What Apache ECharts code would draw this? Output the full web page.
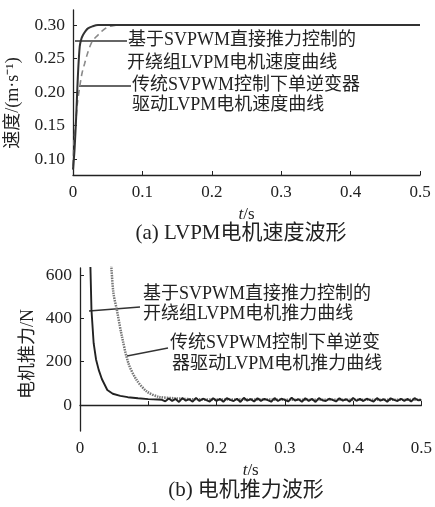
<!DOCTYPE html>
<html><head><meta charset="utf-8">
<script src="https://cdn.jsdelivr.net/npm/echarts@6/dist/echarts.min.js"></script>
<style>html,body{margin:0;padding:0;background:#fff}#c{width:435px;height:507px}</style>
</head><body><div id="c"></div>
<script>
// ---- Data ----
const xTicks = [0, 0.1, 0.2, 0.3, 0.4, 0.5];
const speedTicks = [0.10, 0.15, 0.20, 0.25, 0.30];
const thrustTicks = [0, 200, 400, 600];

// (a) speed, open-winding LVPM with SVPWM direct thrust control (solid)
const speedDtcT = [0, 0.002, 0.004, 0.005, 0.007, 0.0097, 0.012, 0.0144, 0.018, 0.0216, 0.028, 0.036, 0.05, 0.5];
const speedDtcV = [0.084, 0.11, 0.15, 0.173, 0.223, 0.268, 0.279, 0.285, 0.291, 0.295, 0.298, 0.300, 0.300, 0.300];
// (a) speed, conventional SVPWM single inverter (dashed)
const speedConvT = [0, 0.0014, 0.004, 0.0063, 0.0097, 0.013, 0.0169, 0.021, 0.0264, 0.031, 0.036, 0.043, 0.050, 0.058, 0.065, 0.08, 0.5];
const speedConvV = [0.09, 0.124, 0.155, 0.183, 0.208, 0.228, 0.243, 0.258, 0.273, 0.280, 0.285, 0.292, 0.297, 0.299, 0.300, 0.300, 0.300];

// (b) thrust, direct thrust control (solid) - transient
const thrustDtcT = [0.013, 0.0153, 0.0168, 0.020, 0.0235, 0.0274, 0.032, 0.040, 0.048, 0.059, 0.07, 0.085, 0.1, 0.114];
const thrustDtcV = [900, 632, 438, 285, 210, 162, 120, 69, 52, 42, 36, 31, 27, 25];
// (b) thrust steady ripple, from t = 0.12 s every 0.005 s
const rippleStart = 0.12, rippleStep = 0.005;
const thrustRipple = [24,17,30,19,28,14,32,20,27,15,33,18,29,22,16,31,19,28,15,32,24,18,29,14,33,20,27,16,31,19,28,22,15,32,18,29,24,16,34,20,27,15,31,19,28,14,32,22,18,29,24,16,31,20,27,15,33,19,28,18,29,22,16,32,20,27,15,31,24,18,29,19,28,16,32,22,23];
// (b) thrust, conventional SVPWM (dotted)
const thrustConvT = [0.043, 0.046, 0.049, 0.054, 0.0615, 0.071, 0.083, 0.098, 0.115, 0.139, 0.17, 0.5];
const thrustConvV = [760, 632, 516, 438, 315, 192, 115, 62, 38, 31, 26, 24];

// ---- build ----
const zip = (t, v) => t.map((x, i) => [x, v[i]]);
const dtcThrust = zip(thrustDtcT, thrustDtcV).concat(thrustRipple.map((v, i) => [rippleStart + i * rippleStep, v]).filter(p => p[0] <= 0.5));

const serif = '"Liberation Serif","Noto Sans CJK SC",serif';
const axisCol = '#222';
const txt = (x, y, s, size) => ({type: 'text', left: x, top: y, style: {text: s, font: `${size}px ${serif}`, fill: '#222'}});
const vtxt = (x, y, s, size) => ({type: 'text', x: x, y: y, rotation: Math.PI / 2, style: {text: s, font: `${size}px ${serif}`, fill: '#222', align: 'center', verticalAlign: 'middle'}});
const seg = (x1, y1, x2, y2) => ({type: 'line', shape: {x1, y1, x2, y2}, style: {stroke: '#333', lineWidth: 1.3}});

function xAxisCfg(grid) {
  return {
    type: 'value', gridIndex: grid, min: 0, max: 0.5, interval: 0.1,
    axisLine: {show: true, lineStyle: {color: axisCol, width: 1.3}},
    axisTick: {show: true, inside: true, length: 4, lineStyle: {color: axisCol}},
    splitLine: {show: false},
    axisLabel: {color: '#222', fontFamily: serif, fontSize: 17, margin: 9, formatter: v => v === 0 ? '0' : v.toFixed(1)},
    name: '{i|t}/s', nameLocation: 'middle', nameGap: 31,
    nameTextStyle: {color: '#222', fontFamily: serif, fontSize: 17, rich: {i: {fontStyle: 'italic', fontFamily: serif, fontSize: 17, color: '#222'}}}
  };
}

const option = {
  animation: false,
  backgroundColor: '#fff',
  grid: [
    {left: 73, top: 10, width: 347, height: 165},
    {left: 80, top: 268, width: 342, height: 163}
  ],
  xAxis: [xAxisCfg(0), xAxisCfg(1)],
  yAxis: [
    {
      type: 'value', gridIndex: 0, min: 0.0761, max: 0.3224,
      axisLine: {show: true, lineStyle: {color: axisCol, width: 1.3}},
      axisTick: {show: true, inside: true, length: 4, customValues: speedTicks, lineStyle: {color: axisCol}},
      splitLine: {show: false},
      axisLabel: {customValues: speedTicks, color: '#222', fontFamily: serif, fontSize: 17.5, margin: 8, formatter: v => v.toFixed(2)}
    },
    {
      type: 'value', gridIndex: 1, min: -120, max: 632,
      axisLine: {show: true, lineStyle: {color: axisCol, width: 1.3}},
      axisTick: {show: true, inside: true, length: 4, customValues: thrustTicks, lineStyle: {color: axisCol}},
      splitLine: {show: false},
      axisLabel: {customValues: thrustTicks, color: '#222', fontFamily: serif, fontSize: 17.5, margin: 8}
    }
  ],
  series: [
    {type: 'line', xAxisIndex: 0, yAxisIndex: 0, data: zip(speedConvT, speedConvV), showSymbol: false, smooth: 0.3, clip: true,
     lineStyle: {color: '#8a8a8a', width: 1.6, type: [6, 4]}, z: 2},
    {type: 'line', xAxisIndex: 0, yAxisIndex: 0, data: zip(speedDtcT, speedDtcV), showSymbol: false, smooth: 0.3, clip: true,
     lineStyle: {color: '#333', width: 2}, z: 3},
    {type: 'line', xAxisIndex: 1, yAxisIndex: 1, data: zip(thrustConvT, thrustConvV), showSymbol: false, smooth: 0.3, clip: true,
     lineStyle: {color: '#777', width: 2.5, type: [1.5, 1]}, z: 2},
    {type: 'line', xAxisIndex: 1, yAxisIndex: 1, data: dtcThrust, showSymbol: false, smooth: false, clip: true,
     lineStyle: {color: '#222', width: 1.9}, z: 3}
  ],
  graphic: [
    // y-axis names
    vtxt(13, 103, '速度/(m·s⁻¹)', 18),
    vtxt(28, 354, '电机推力/N', 18),
    // (a) annotations
    seg(75, 41, 127, 41),
    txt(128, 31, '基于SVPWM直接推力控制的', 18),
    txt(127, 54, '开绕组LVPM电机速度曲线', 18),
    seg(79, 86, 131, 86),
    txt(132, 76, '传统SVPWM控制下单逆变器', 18),
    txt(132, 96, '驱动LVPM电机速度曲线', 18),
    // (b) annotations
    seg(89, 311, 140, 307),
    txt(143, 285, '基于SVPWM直接推力控制的', 18),
    txt(143, 305, '开绕组LVPM电机推力曲线', 18),
    seg(127, 356, 168, 348),
    txt(170, 334, '传统SVPWM控制下单逆变', 18),
    txt(172, 355, '器驱动LVPM电机推力曲线', 18),
    // captions
    {type: 'text', x: 241, y: 233, style: {text: '(a) LVPM电机速度波形', font: `21px ${serif}`, fill: '#222', align: 'center', verticalAlign: 'middle'}},
    {type: 'text', x: 246, y: 490, style: {text: '(b) 电机推力波形', font: `21px ${serif}`, fill: '#222', align: 'center', verticalAlign: 'middle'}}
  ]
};
const chart = echarts.init(document.getElementById('c'), null, {renderer: 'canvas'});
chart.setOption(option);
</script></body></html>
